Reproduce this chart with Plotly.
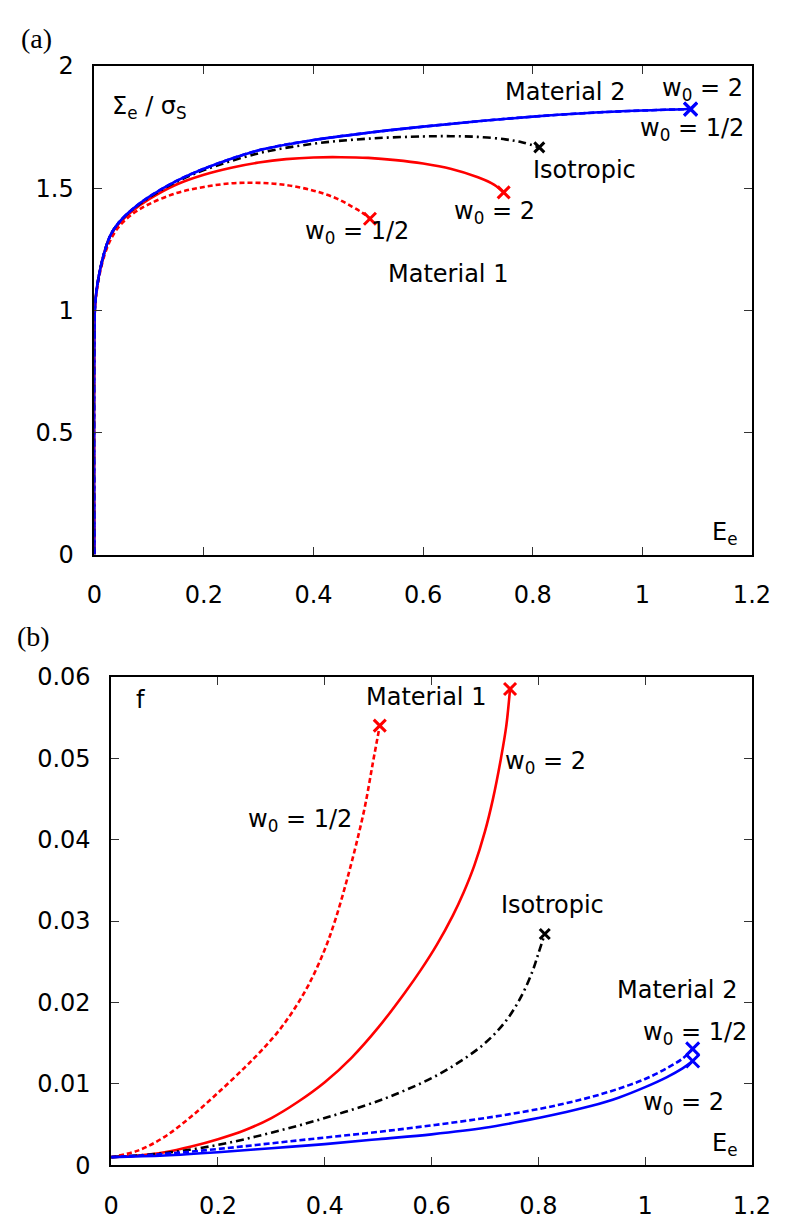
import plotly.graph_objects as go

# ---------------- Panel (a): Sigma_e / sigma_S vs E_e ----------------
a_m2_w2_E = [0, 0.001, 0.003, 0.006, 0.01, 0.02, 0.03, 0.045, 0.07, 0.1, 0.15, 0.2, 0.3, 0.4, 0.5, 0.6, 0.7, 0.8, 0.9, 1.0, 1.088]
a_m2_w2_S = [0, 1.0, 1.06, 1.11, 1.16, 1.25, 1.31, 1.36, 1.415, 1.465, 1.53, 1.58, 1.655, 1.697, 1.727, 1.752, 1.774, 1.793, 1.808, 1.818, 1.824]
a_m2_wh_E = [0, 0.001, 0.003, 0.006, 0.01, 0.02, 0.03, 0.045, 0.07, 0.1, 0.15, 0.2, 0.3, 0.4, 0.5, 0.6, 0.7, 0.8, 0.9, 1.0, 1.088]
a_m2_wh_S = [0, 1.0, 1.06, 1.11, 1.16, 1.25, 1.31, 1.36, 1.415, 1.465, 1.53, 1.58, 1.655, 1.697, 1.727, 1.752, 1.774, 1.793, 1.808, 1.818, 1.824]
a_iso_E = [0, 0.001, 0.003, 0.006, 0.01, 0.02, 0.03, 0.045, 0.07, 0.1, 0.15, 0.2, 0.3, 0.4, 0.5, 0.6, 0.65, 0.7, 0.75, 0.78, 0.812]
a_iso_S = [0, 1.0, 1.06, 1.11, 1.16, 1.25, 1.31, 1.36, 1.413, 1.462, 1.526, 1.574, 1.643, 1.682, 1.703, 1.712, 1.713, 1.710, 1.700, 1.688, 1.667]
a_m1_w2_E = [0, 0.001, 0.003, 0.006, 0.01, 0.02, 0.03, 0.045, 0.07, 0.1, 0.15, 0.2, 0.25, 0.3, 0.35, 0.4, 0.45, 0.5, 0.55, 0.6, 0.65, 0.7, 0.73, 0.747]
a_m1_w2_S = [0, 1.0, 1.06, 1.11, 1.16, 1.25, 1.308, 1.355, 1.408, 1.455, 1.515, 1.555, 1.584, 1.605, 1.619, 1.626, 1.627, 1.624, 1.615, 1.601, 1.580, 1.545, 1.514, 1.483]
a_m1_wh_E = [0, 0.001, 0.003, 0.006, 0.01, 0.02, 0.03, 0.045, 0.07, 0.1, 0.15, 0.2, 0.25, 0.3, 0.35, 0.4, 0.44, 0.47, 0.49, 0.503]
a_m1_wh_S = [0, 1.0, 1.055, 1.10, 1.15, 1.235, 1.29, 1.343, 1.395, 1.435, 1.48, 1.505, 1.52, 1.522, 1.513, 1.49, 1.46, 1.425, 1.398, 1.375]

# ---------------- Panel (b): f vs E_e ----------------
b_m1_wh_E = [0, 0.05, 0.10, 0.15, 0.20, 0.25, 0.28, 0.31, 0.34, 0.37, 0.40, 0.42, 0.44, 0.458, 0.475, 0.49, 0.503]
b_m1_wh_f = [0.0010, 0.0018, 0.0035, 0.0060, 0.0089, 0.0120, 0.0140, 0.0162, 0.0189, 0.0222, 0.0265, 0.0302, 0.0347, 0.0392, 0.0440, 0.0494, 0.0540]
b_m1_w2_E = [0, 0.05, 0.10, 0.15, 0.20, 0.25, 0.30, 0.35, 0.40, 0.45, 0.50, 0.55, 0.58, 0.61, 0.64, 0.66, 0.68, 0.70, 0.715, 0.73, 0.74, 0.747]
b_m1_w2_f = [0.0010, 0.0012, 0.0016, 0.0023, 0.0032, 0.0043, 0.0058, 0.0078, 0.0102, 0.0132, 0.0169, 0.0212, 0.0240, 0.0271, 0.0307, 0.0335, 0.0368, 0.0410, 0.0450, 0.0500, 0.0540, 0.0585]
b_iso_E = [0, 0.10, 0.20, 0.30, 0.40, 0.50, 0.55, 0.60, 0.65, 0.70, 0.74, 0.77, 0.79, 0.80, 0.812]
b_iso_f = [0.0010, 0.0015, 0.0025, 0.0040, 0.0058, 0.0079, 0.0092, 0.0107, 0.0126, 0.0150, 0.0178, 0.0210, 0.0240, 0.0260, 0.0284]
b_m2_wh_E = [0, 0.1, 0.2, 0.3, 0.4, 0.5, 0.6, 0.7, 0.8, 0.85, 0.9, 0.95, 1.0, 1.04, 1.07, 1.089]
b_m2_wh_f = [0.0010, 0.0014, 0.0020, 0.0027, 0.0034, 0.0041, 0.0049, 0.0058, 0.0069, 0.0076, 0.0084, 0.0094, 0.0106, 0.0119, 0.0131, 0.0143]
b_m2_w2_E = [0, 0.1, 0.2, 0.3, 0.4, 0.5, 0.6, 0.7, 0.8, 0.85, 0.9, 0.95, 1.0, 1.04, 1.07, 1.089]
b_m2_w2_f = [0.0010, 0.0012, 0.0016, 0.0021, 0.0026, 0.0032, 0.0038, 0.0046, 0.0058, 0.0065, 0.0073, 0.0083, 0.0096, 0.0108, 0.0119, 0.0128]

x_ticks = [0, 0.2, 0.4, 0.6, 0.8, 1, 1.2]
x_ticktext = ["0", "0.2", "0.4", "0.6", "0.8", "1", "1.2"]
a_y_ticks = [0, 0.5, 1, 1.5, 2]
a_y_ticktext = ["0", "0.5", "1", "1.5", "2"]
b_y_ticks = [0, 0.01, 0.02, 0.03, 0.04, 0.05, 0.06]
b_y_ticktext = ["0", "0.01", "0.02", "0.03", "0.04", "0.05", "0.06"]

RED = "#ff0000"
BLUE = "#0000ff"
BLACK = "#000000"
LW = 2.6

W, H = 798, 1221
FONT = "DejaVu Sans"

fig = go.Figure()


def curve(xs, ys, color, dash, xa, ya, msize=12):
    fig.add_trace(go.Scatter(
        x=xs, y=ys, mode="lines", xaxis=xa, yaxis=ya,
        line=dict(color=color, width=LW, dash=dash, shape="spline", smoothing=1.0),
        showlegend=False, hoverinfo="skip"))
    fig.add_trace(go.Scatter(
        x=[xs[-1]], y=[ys[-1]], mode="markers", xaxis=xa, yaxis=ya,
        marker=dict(symbol="x-thin", size=msize, line=dict(color=color, width=3)),
        showlegend=False, hoverinfo="skip"))


DOT = "5px,3px"
BDOT = "6px,3px"
DASHDOT = "8px,4px,2px,4px"

# panel (a)
curve(a_m1_wh_E, a_m1_wh_S, RED, DOT, "x", "y")
curve(a_m1_w2_E, a_m1_w2_S, RED, "solid", "x", "y")
curve(a_iso_E, a_iso_S, BLACK, DASHDOT, "x", "y", msize=10)
curve(a_m2_wh_E, a_m2_wh_S, BLUE, BDOT, "x", "y", msize=13)
curve(a_m2_w2_E, a_m2_w2_S, BLUE, "solid", "x", "y", msize=13)

# panel (b)
curve(b_m1_wh_E, b_m1_wh_f, RED, DOT, "x2", "y2")
curve(b_m1_w2_E, b_m1_w2_f, RED, "solid", "x2", "y2")
curve(b_iso_E, b_iso_f, BLACK, DASHDOT, "x2", "y2", msize=10)
curve(b_m2_wh_E, b_m2_wh_f, BLUE, BDOT, "x2", "y2", msize=13)
curve(b_m2_w2_E, b_m2_w2_f, BLUE, "solid", "x2", "y2", msize=13)


def px_x(p):
    return p / W


def px_y(p):
    return 1 - p / H


axis_common = dict(
    showgrid=False, zeroline=False, showline=True, linecolor="black", linewidth=1.6,
    mirror="allticks", ticks="inside", ticklen=8, tickwidth=1.3, tickcolor="#333333",
    tickfont=dict(family=FONT, size=24, color="black"),
)

fig.update_layout(
    width=W, height=H,
    margin=dict(l=0, r=0, t=0, b=0),
    paper_bgcolor="white", plot_bgcolor="white",
    font=dict(family=FONT, size=24, color="black"),
    xaxis=dict(domain=[px_x(89.3), px_x(770)], range=[0, 1.2], tickvals=x_ticks, ticktext=x_ticktext,
               anchor="y", ticklabelstandoff=18, **axis_common),
    yaxis=dict(domain=[px_y(553.3), px_y(53.3)], range=[0, 2], tickvals=a_y_ticks, ticktext=a_y_ticktext,
               anchor="x", ticklabelstandoff=14, **axis_common),
    xaxis2=dict(domain=[px_x(106.8), px_x(770)], range=[0, 1.2], tickvals=x_ticks, ticktext=x_ticktext,
                anchor="y2", ticklabelstandoff=18, **axis_common),
    yaxis2=dict(domain=[px_y(1178.3), px_y(678.3)], range=[0, 0.06], tickvals=b_y_ticks, ticktext=b_y_ticktext,
                anchor="x2", ticklabelstandoff=14, **axis_common),
)


def note(text, x, y, xref, yref, xanchor="center", yanchor="middle", size=24, family=FONT):
    fig.add_annotation(text=text, x=x, y=y, xref=xref, yref=yref, showarrow=False,
                       xanchor=xanchor, yanchor=yanchor,
                       font=dict(family=family, size=size, color="black"))


# panel (a) labels
note("Σ<sub>e</sub> / σ<sub>S</sub>", 0.028, 1.83, "x", "y", xanchor="left")
note("Material 2", 0.858, 1.893, "x", "y")
note("w<sub>0</sub> = 2", 1.110, 1.905, "x", "y")
note("w<sub>0</sub> = 1/2", 1.091, 1.74, "x", "y")
note("Isotropic", 0.894, 1.573, "x", "y")
note("w<sub>0</sub> = 2", 0.731, 1.40, "x", "y")
note("w<sub>0</sub> = 1/2", 0.48, 1.32, "x", "y")
note("Material 1", 0.646, 1.149, "x", "y")
note("E<sub>e</sub>", 1.15, 0.085, "x", "y")

# panel (b) labels
note("f", 0.042, 0.0572, "x2", "y2", xanchor="left")
note("Material 1", 0.589, 0.0575, "x2", "y2")
note("w<sub>0</sub> = 2", 0.814, 0.0495, "x2", "y2")
note("w<sub>0</sub> = 1/2", 0.354, 0.0423, "x2", "y2")
note("Isotropic", 0.826, 0.0320, "x2", "y2")
note("Material 2", 1.060, 0.0215, "x2", "y2")
note("w<sub>0</sub> = 1/2", 1.093, 0.0162, "x2", "y2")
note("w<sub>0</sub> = 2", 1.071, 0.0076, "x2", "y2")
note("E<sub>e</sub>", 1.15, 0.0025, "x2", "y2")

# panel tags
note("(a)", px_x(11), px_y(25), "paper", "paper", xanchor="left", size=28, family="Liberation Serif")
note("(b)", px_x(7), px_y(637), "paper", "paper", xanchor="left", size=28, family="Liberation Serif")

fig.write_html("out.html", config={"displayModeBar": False},
               post_script="document.body.style.margin='0px';document.body.style.overflow='hidden';")
